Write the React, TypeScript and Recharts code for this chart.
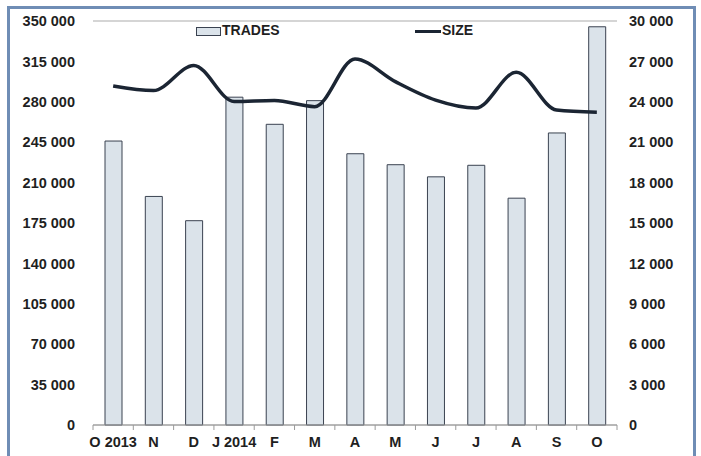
import { ComposedChart, Bar, Line, XAxis, YAxis, CartesianGrid, Legend } from 'recharts';

const months = ['O 2013', 'N', 'D', 'J 2014', 'F', 'M', 'A', 'M', 'J', 'J', 'A', 'S', 'O'];
const trades = [246000, 198000, 177000, 284000, 260500, 281000, 235000, 225500, 215000, 225000, 196500, 253000, 345000];
const size = [25170, 24830, 26700, 24020, 24100, 23640, 27180, 25500, 24130, 23540, 26190, 23390, 23220];
const leftTicks = [0, 35000, 70000, 105000, 140000, 175000, 210000, 245000, 280000, 315000, 350000];
const rightTicks = [0, 3000, 6000, 9000, 12000, 15000, 18000, 21000, 24000, 27000, 30000];

const data = months.map((m, i) => ({ month: m, trades: trades[i], size: size[i], key: i }));

const W = 701;
const H = 456;
const PLOT_LEFT = 93;
const PLOT_RIGHT = 617;
const BAND = (PLOT_RIGHT - PLOT_LEFT) / months.length;
const FONT = '"Liberation Sans", Arial, sans-serif';

const fmt = (v: number) => v.toLocaleString('en-US').replace(/,/g, ' ');

function MonthTick(props: any) {
  const { x, y, payload, index } = props;
  const last = index === months.length - 1;
  return (
    <g>
      <line x1={x - BAND / 2} x2={x - BAND / 2} y1={y} y2={y + 5} stroke="#9a9a9a" />
      {last && <line x1={x + BAND / 2} x2={x + BAND / 2} y1={y} y2={y + 5} stroke="#9a9a9a" />}
      <text x={x} y={y + 22} textAnchor="middle" fontSize={14.5} fontWeight="bold" fill="#1f1f1f" fontFamily={FONT}>
        {months[payload.index ?? index] ?? payload.value}
      </text>
    </g>
  );
}

function ChartLegend() {
  return (
    <div style={{ position: 'relative', width: W, height: 0, fontFamily: FONT, fontWeight: 'bold', fontSize: 14, color: '#1f1f1f' }}>
      <div style={{ position: 'absolute', left: 196, top: 27, width: 23, height: 7, background: '#dbe3ea', border: '1px solid #3a4250' }} />
      <div style={{ position: 'absolute', left: 222, top: 22, lineHeight: '16px' }}>TRADES</div>
      <div style={{ position: 'absolute', left: 415, top: 30, width: 26, height: 3, background: '#1b2533' }} />
      <div style={{ position: 'absolute', left: 442, top: 22, lineHeight: '16px' }}>SIZE</div>
    </div>
  );
}

export default function App() {
  return (
    <div style={{ position: 'fixed', left: 0, top: 0, width: W, height: H, background: '#fff', overflow: 'hidden' }}>
      <div style={{ position: 'absolute', left: 7, top: 6, width: 683, height: 480, border: '3px solid #6f8db5' }} />
      <div style={{ position: 'absolute', left: 0, top: 0 }}>
        <ComposedChart
          width={W}
          height={H}
          data={data}
          margin={{ top: 21, right: 0, bottom: 0, left: 0 }}
          barCategoryGap={0}
        >
          <CartesianGrid vertical={false} stroke="#ababab" strokeWidth={1.2} />
          <XAxis
            dataKey="key"
            height={31}
            tickLine={false}
            tickSize={0}
            tickMargin={0}
            stroke="#9a9a9a"
            interval={0}
            tick={<MonthTick />}
          />
          <YAxis
            yAxisId="left"
            width={PLOT_LEFT}
            domain={[0, 350000]}
            ticks={leftTicks}
            tickFormatter={fmt}
            axisLine={false}
            tickLine={false}
            tickSize={6}
            tickMargin={12}
            tick={{ fontSize: 14.5, fontWeight: 'bold', fill: '#1f1f1f', fontFamily: FONT }}
          />
          <YAxis
            yAxisId="right"
            orientation="right"
            width={W - PLOT_RIGHT}
            domain={[0, 30000]}
            ticks={rightTicks}
            tickFormatter={fmt}
            axisLine={false}
            tickLine={false}
            tickSize={6}
            tickMargin={6}
            tick={{ fontSize: 14.5, fontWeight: 'bold', fill: '#1f1f1f', fontFamily: FONT }}
          />
          <Legend verticalAlign="top" content={() => <ChartLegend />} wrapperStyle={{ top: 0, left: 0 }} />
          <Bar
            yAxisId="left"
            dataKey="trades"
            name="TRADES"
            barSize={17}
            fill="#dbe3ea"
            stroke="#3a4250"
            strokeWidth={1}
            isAnimationActive={false}
          />
          <Line
            yAxisId="right"
            type="monotone"
            dataKey="size"
            name="SIZE"
            stroke="#1b2533"
            strokeWidth={3.5}
            dot={false}
            activeDot={false}
            isAnimationActive={false}
          />
        </ComposedChart>
      </div>
    </div>
  );
}
